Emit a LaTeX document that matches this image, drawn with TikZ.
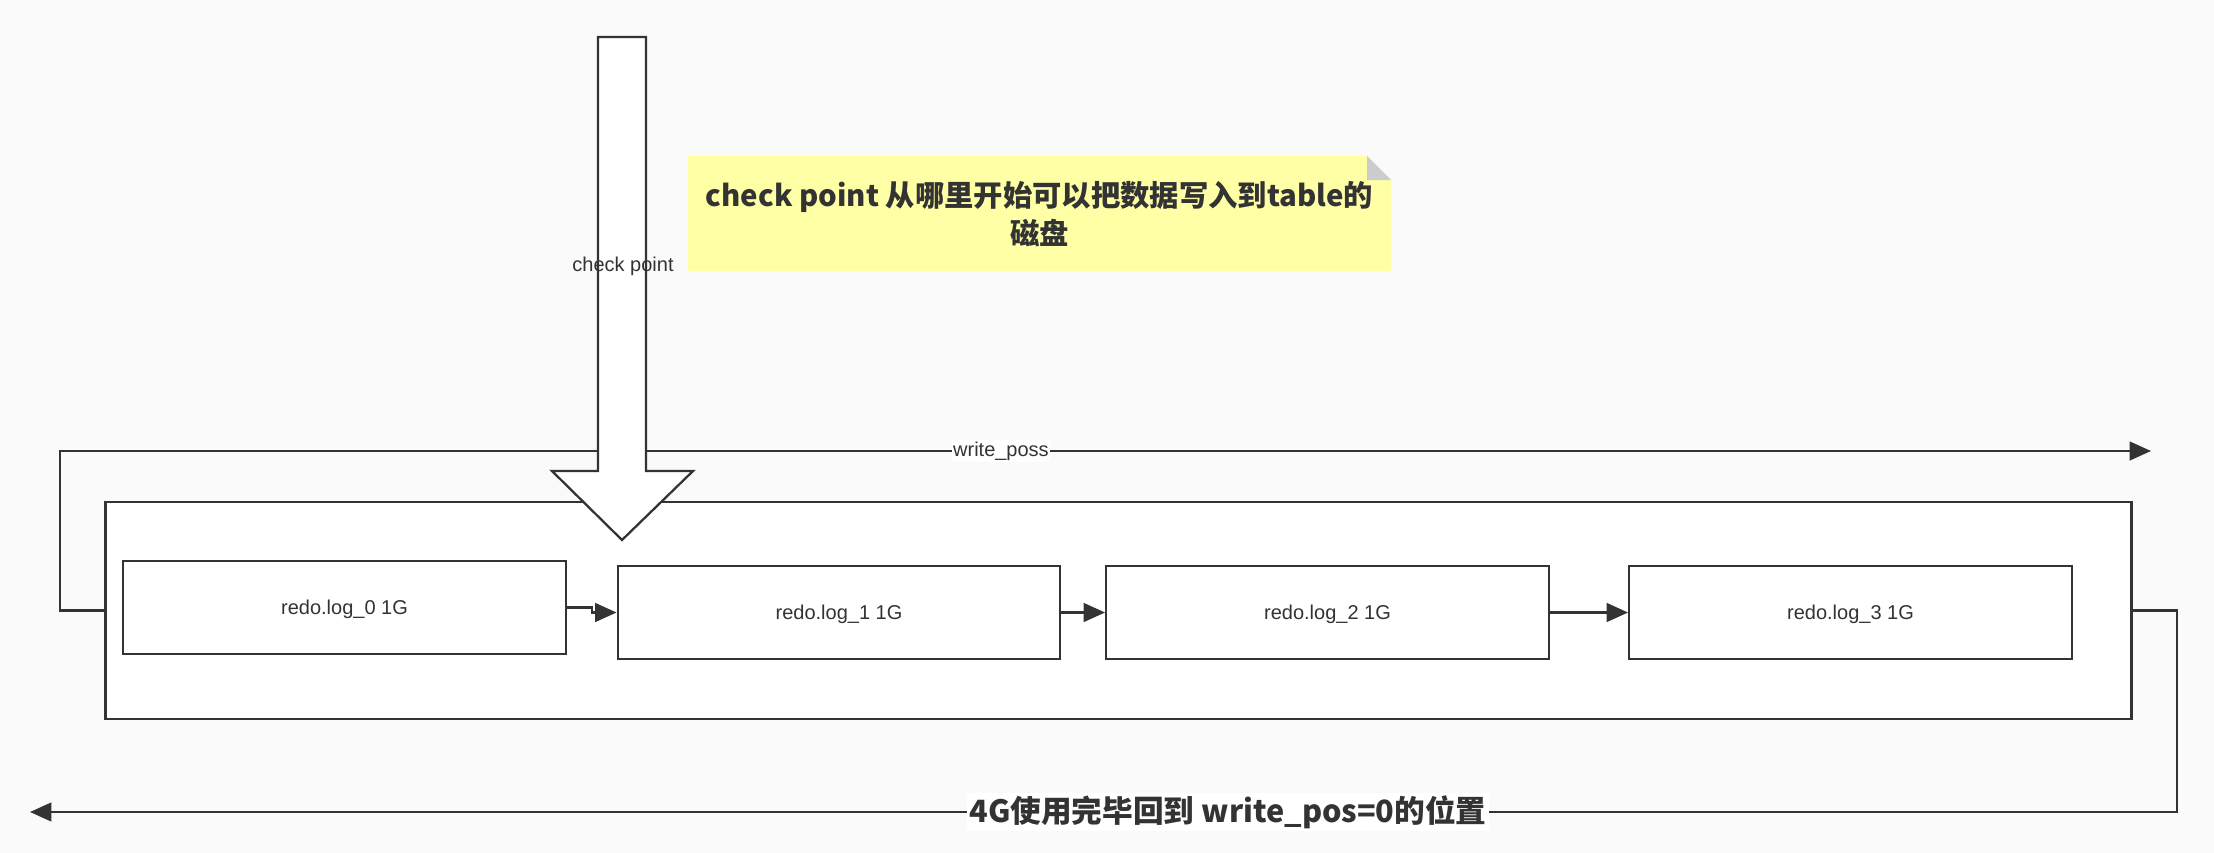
\documentclass[tikz,border=0pt]{standalone}
\usepackage{fontspec}
\setmainfont{Liberation Sans}
\newfontfamily\cjk{Noto Sans CJK SC}
\usetikzlibrary{arrows.meta,calc}
\definecolor{bg}{HTML}{FAFAFA}
\definecolor{ln}{HTML}{333333}
\definecolor{notey}{HTML}{FFFFA6}
\definecolor{foldc}{HTML}{CCCCCC}
\tikzset{
  logbox/.style={draw=ln, fill=white, line width=1.7pt, inner sep=0pt,
    minimum width=332pt, minimum height=69.75pt, text=ln, text depth=0pt,
    font=\fontsize{15}{18}\selectfont},
  conn/.style={draw=ln, line width=1.7pt, -{Triangle[length=16pt,width=14pt]}},
  lbl/.style={text=ln, font=\fontsize{15}{18}\selectfont, inner sep=1pt},
  bglbl/.style={lbl, fill=white},
  bigarrow/.style={draw=ln, fill=white, line width=1.7pt, line join=miter},
}
\begin{document}
\begin{tikzpicture}[x=0.75pt,y=-0.75pt]
\useasboundingbox[fill=bg] (0,0) rectangle (2214,853);

% container and log boxes
\node[draw=ln, fill=white, line width=1.7pt, inner sep=0pt,
      minimum width=1519.5pt, minimum height=162.75pt] (outer) at (1118.5,610.5) {};
\node[logbox] (b0) at (344.5,607.5) {redo.log\_0 1G};
\node[logbox] (b1) at (839,612.5) {redo.log\_1 1G};
\node[logbox] (b2) at (1327.5,612.5) {redo.log\_2 1G};
\node[logbox] (b3) at (1850.5,612.5) {redo.log\_3 1G};

% connectors between log files
\draw[conn] (b0.east) -| ($(b0.east)!0.5!(b1.west)$) |- (b1.west);
\draw[conn] (b1) -- (b2);
\draw[conn] (b2) -- (b3);

% write_poss connector
\coordinate (wpCorner) at (60,451);
\coordinate (wpEnd) at (2151,451);
\draw[conn] (outer.west) -| (wpCorner) -- node[bglbl, pos=0.45] (wplabel) {write\_poss} (wpEnd);

% wrap-around connector
\coordinate (rtCorner) at (2177,812);
\coordinate (btEnd) at (30,812);
\draw[conn] (outer.east) -| (rtCorner) -- node[bglbl, pos=0.442, inner sep=2pt,
   font={\cjk\bfseries\fontsize{23}{27}\selectfont}] (wraplabel)
   {4G使用完毕回到 write\_pos=0的位置} (btEnd);

% note
\fill[notey] (688,156) -- (1367,156) -- (1391,180) -- (1391,271) -- (688,271) -- cycle;
\fill[foldc] (1367,156) -- (1391,180) -- (1367,180) -- cycle;
\node[text=ln, align=center, font={\cjk\bfseries\fontsize{22}{28}\selectfont}] (note)
  at (1039.5,214) {check point 从哪里开始可以把数据写入到table的\\磁盘};

% big check point arrow
\draw[bigarrow] (598,37) -- (646,37) -- (646,471) -- (693,471) -- (622,540)
  -- (552,471) -- (598,471) -- cycle;
\node[lbl] (cplabel) at (623,266) {check point};
\end{tikzpicture}
\end{document}
